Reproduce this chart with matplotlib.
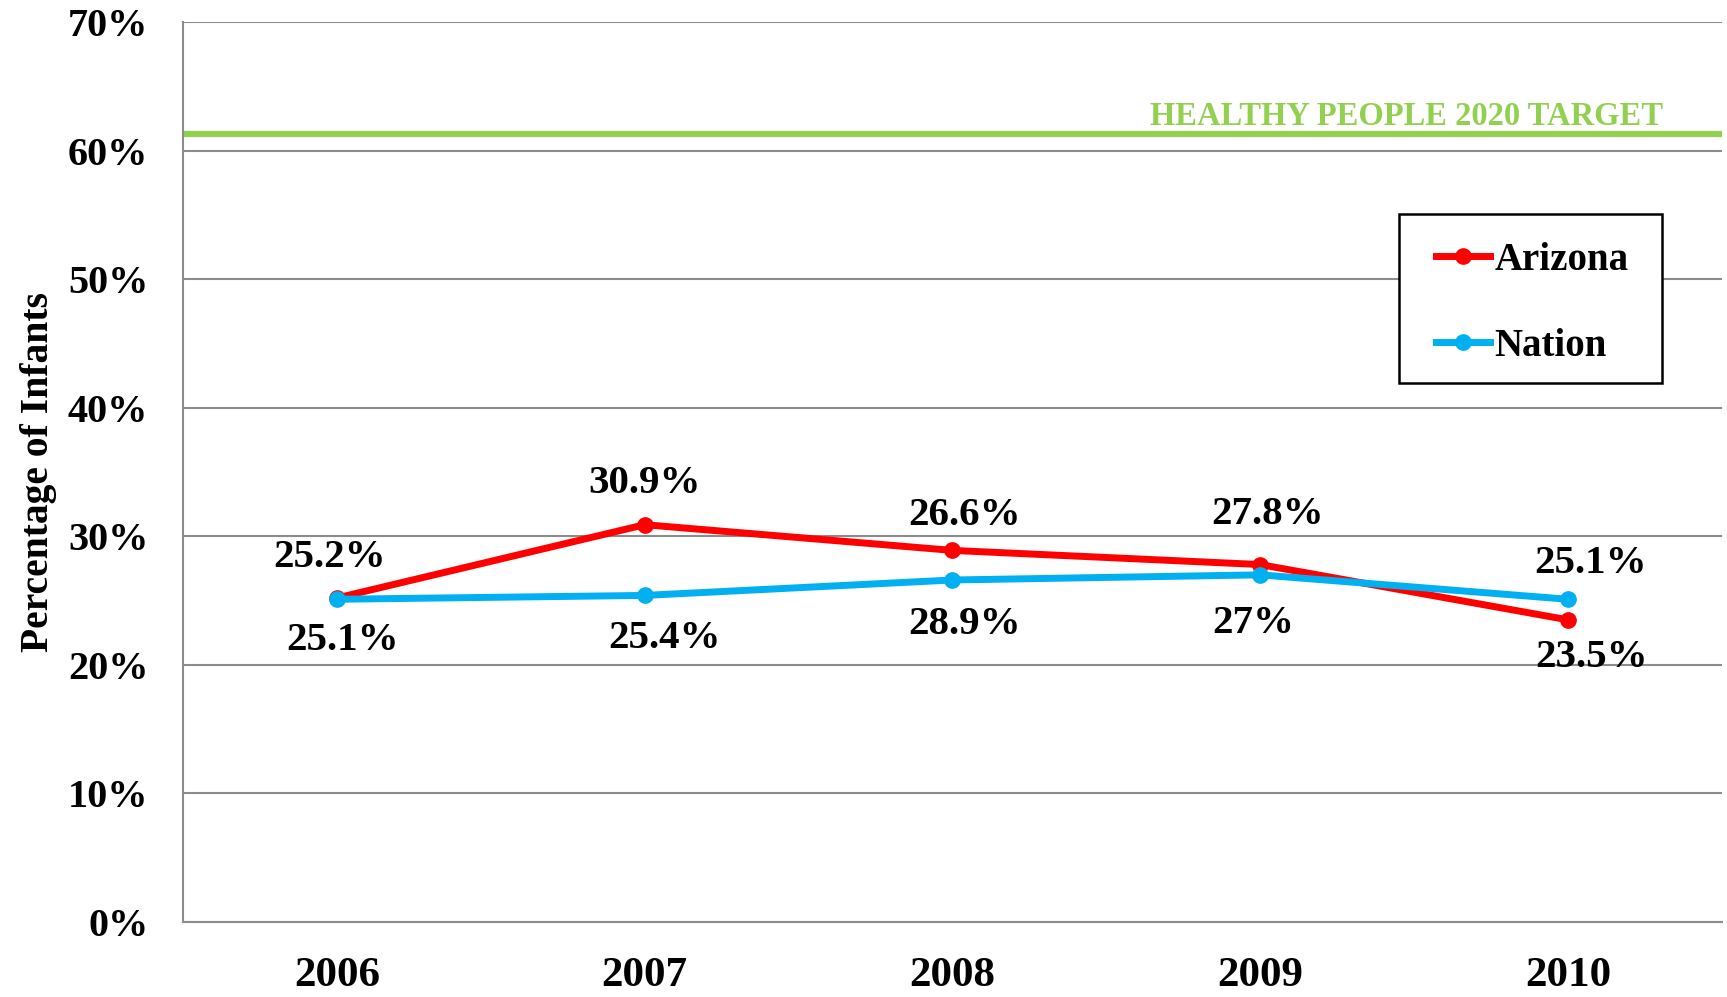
import matplotlib
matplotlib.use("Agg")
import matplotlib.pyplot as plt
from matplotlib.patches import Rectangle

# data
years = ["2006", "2007", "2008", "2009", "2010"]
arizona = [25.2, 30.9, 28.9, 27.8, 23.5]
nation = [25.1, 25.4, 26.6, 27.0, 25.1]
# labels as printed on the chart (2008 labels are swapped in the original)
arizona_labels = ["25.2%", "30.9%", "26.6%", "27.8%", "23.5%"]
nation_labels = ["25.1%", "25.4%", "28.9%", "27%", "25.1%"]
target = 61.3
target_label = "HEALTHY PEOPLE 2020 TARGET"

# label offsets in points
arizona_off = [(-5, 29), (0, 30), (9, 25), (5, 36), (17, -27)]
nation_off = [(4, -30), (14, -31), (9, -32), (-5, -35), (16, 26)]

plt.rcParams['font.family'] = ['Liberation Serif', 'DejaVu Serif']
plt.rcParams['font.weight'] = 'bold'

W, H = 1727, 997
fig = plt.figure(figsize=(W / 100, H / 100), dpi=100)
ax = fig.add_axes([0.106, 0.0752, 0.891, 0.9028])

x = list(range(len(years)))
grid_c = "#8c8c8c"

for v in range(0, 71, 10):
    ax.axhline(v, color=grid_c, lw=1.5, zorder=1)

ax.plot([-0.5, 4.5], [target, target], color="#92D050", lw=4.5, zorder=2, solid_capstyle='butt')
ax.text(4.31, target + 0.15, target_label, color="#92D050", fontsize=23.5,
        fontweight='bold', ha='right', va='bottom')

ax.plot(x, arizona, color="#FF0000", lw=5, marker='o', markersize=11,
        label="Arizona", zorder=3)
ax.plot(x, nation, color="#00B0F0", lw=5, marker='o', markersize=11,
        label="Nation", zorder=4)

for i in x:
    ax.annotate(arizona_labels[i], (i, arizona[i]), xytext=arizona_off[i],
                textcoords='offset points', ha='center', va='center',
                fontsize=29.5, fontweight='bold', zorder=5)
    ax.annotate(nation_labels[i], (i, nation[i]), xytext=nation_off[i],
                textcoords='offset points', ha='center', va='center',
                fontsize=29.5, fontweight='bold', zorder=5)

ax.set_xlim(-0.5, 4.5)
ax.set_ylim(0, 70)
ax.set_xticks(x)
ax.set_xticklabels(years, fontsize=31, fontweight='bold')
ax.set_yticks(range(0, 71, 10))
ax.set_yticklabels([f"{v}%" for v in range(0, 71, 10)], fontsize=29, fontweight='bold')
ax.tick_params(axis='x', length=0, pad=25)
ax.tick_params(axis='y', length=0, pad=25)
ax.set_ylabel("Percentage of Infants", fontsize=28.5, fontweight='bold', labelpad=8)

for s in ['top', 'right']:
    ax.spines[s].set_visible(False)
for s in ['left', 'bottom']:
    ax.spines[s].set_color(grid_c)
    ax.spines[s].set_linewidth(1.5)

# legend box drawn separately so its size matches the original
box = Rectangle((1399 / W, 1 - 383 / H), 263 / W, 169 / H, transform=fig.transFigure,
                facecolor='white', edgecolor='black', lw=1.8, zorder=6, clip_on=False)
ax.add_patch(box)
leg = ax.legend(loc='upper left', bbox_to_anchor=(1436 / W, 1 - 242 / H),
                bbox_transform=fig.transFigure, fontsize=28, frameon=False,
                handlelength=1.4, handletextpad=0.1, labelspacing=1.25,
                borderpad=0, borderaxespad=0)
leg.set_zorder(7)
for t in leg.get_texts():
    t.set_fontweight('bold')

fig.savefig("out.png", dpi=100)
